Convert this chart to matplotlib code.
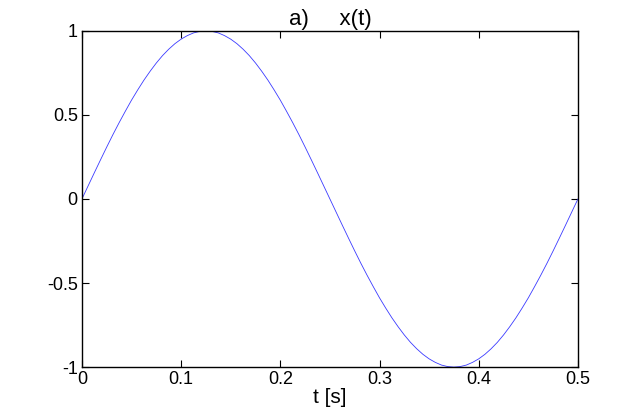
import matplotlib
matplotlib.use("Agg")
import matplotlib.pyplot as plt

# values, every 0.00625 s
t = [0.0, 0.00625, 0.0125, 0.01875, 0.025, 0.03125, 0.0375, 0.04375, 0.05, 0.05625,
     0.0625, 0.06875, 0.075, 0.08125, 0.0875, 0.09375, 0.1, 0.10625, 0.1125, 0.11875,
     0.125, 0.13125, 0.1375, 0.14375, 0.15, 0.15625, 0.1625, 0.16875, 0.175, 0.18125,
     0.1875, 0.19375, 0.2, 0.20625, 0.2125, 0.21875, 0.225, 0.23125, 0.2375, 0.24375,
     0.25, 0.25625, 0.2625, 0.26875, 0.275, 0.28125, 0.2875, 0.29375, 0.3, 0.30625,
     0.3125, 0.31875, 0.325, 0.33125, 0.3375, 0.34375, 0.35, 0.35625, 0.3625, 0.36875,
     0.375, 0.38125, 0.3875, 0.39375, 0.4, 0.40625, 0.4125, 0.41875, 0.425, 0.43125,
     0.4375, 0.44375, 0.45, 0.45625, 0.4625, 0.46875, 0.475, 0.48125, 0.4875, 0.49375, 0.5]
x = [0.0, 0.078, 0.156, 0.233, 0.309, 0.383, 0.454, 0.522, 0.588, 0.649,
     0.707, 0.760, 0.809, 0.853, 0.891, 0.924, 0.951, 0.972, 0.988, 0.997,
     1.0, 0.997, 0.988, 0.972, 0.951, 0.924, 0.891, 0.853, 0.809, 0.760,
     0.707, 0.649, 0.588, 0.522, 0.454, 0.383, 0.309, 0.233, 0.156, 0.078,
     0.0, -0.078, -0.156, -0.233, -0.309, -0.383, -0.454, -0.522, -0.588, -0.649,
     -0.707, -0.760, -0.809, -0.853, -0.891, -0.924, -0.951, -0.972, -0.988, -0.997,
     -1.0, -0.997, -0.988, -0.972, -0.951, -0.924, -0.891, -0.853, -0.809, -0.760,
     -0.707, -0.649, -0.588, -0.522, -0.454, -0.383, -0.309, -0.233, -0.156, -0.078, 0.0]
xticks = [0, 0.1, 0.2, 0.3, 0.4, 0.5]
xticklabels = ["0", "0.1", "0.2", "0.3", "0.4", "0.5"]
yticks = [-1, -0.5, 0, 0.5, 1]
yticklabels = ["-1", "-0.5", "0", "0.5", "1"]

plt.rcParams["font.family"] = ["Liberation Sans", "DejaVu Sans"]
fig = plt.figure(figsize=(6.4, 4.12), dpi=100)
ax = fig.add_axes([0.128, 0.109, 0.775, 0.816])
ax.plot(t, x, color="#3a3aff", lw=0.6)
ax.set_xlim(0, 0.5)
ax.set_ylim(-1, 1)
ax.set_xticks(xticks)
ax.set_xticklabels(xticklabels)
ax.set_yticks(yticks)
ax.set_yticklabels(yticklabels)
ax.tick_params(direction="in", length=5, width=0.8, labelsize=13, top=True, right=True, pad=3)
for s in ax.spines.values():
    s.set_linewidth(1.0)
ax.set_xlabel("t [s]", fontsize=15, labelpad=0)
ax.set_title("a)     x(t)", fontsize=16, pad=4)
fig.savefig("out.png", dpi=100)
